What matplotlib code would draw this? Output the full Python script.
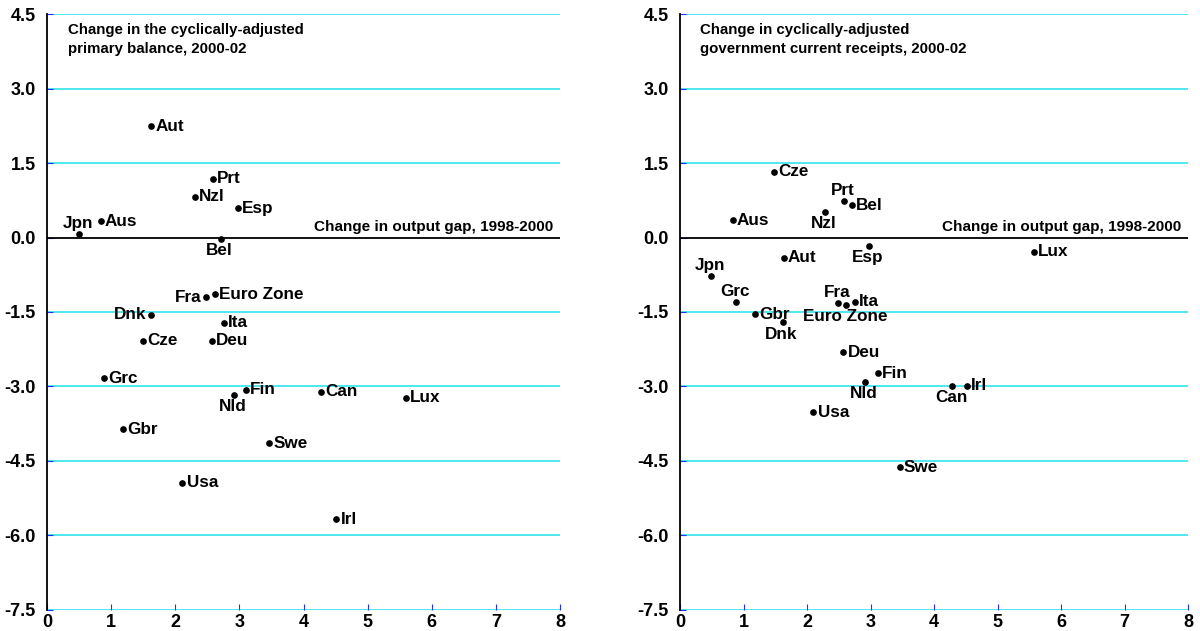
import matplotlib.pyplot as plt
import numpy as np

plt.rcParams['font.family'] = ['Liberation Sans', 'DejaVu Sans']
plt.rcParams['font.weight'] = 'bold'

# left panel: change in cyclically-adjusted primary balance
left_names = ['Aut', 'Prt', 'Nzl', 'Esp', 'Jpn', 'Aus', 'Bel', 'Fra', 'Euro Zone',
              'Dnk', 'Ita', 'Cze', 'Deu', 'Grc', 'Fin', 'Nld', 'Can', 'Lux',
              'Gbr', 'Swe', 'Usa', 'Irl']
left_x = [1.62, 2.59, 2.31, 2.98, 0.50, 0.84, 2.71, 2.48, 2.62,
          1.62, 2.76, 1.50, 2.57, 0.89, 3.10, 2.92, 4.27, 5.60,
          1.19, 3.46, 2.11, 4.51]
left_y = [2.24, 1.18, 0.82, 0.59, 0.07, 0.33, -0.03, -1.20, -1.14,
          -1.56, -1.72, -2.08, -2.08, -2.83, -3.07, -3.17, -3.11, -3.23,
          -3.86, -4.14, -4.94, -5.67]
left_pos = {'Jpn': 'above', 'Bel': 'below', 'Nld': 'below', 'Dnk': 'left', 'Fra': 'left'}

# right panel: change in cyclically-adjusted government current receipts
right_names = ['Cze', 'Prt', 'Bel', 'Nzl', 'Aus', 'Esp', 'Aut', 'Jpn', 'Grc', 'Fra',
               'Euro Zone', 'Ita', 'Gbr', 'Dnk', 'Deu', 'Fin', 'Nld', 'Can', 'Irl',
               'Usa', 'Swe', 'Lux']
right_x = [1.48, 2.59, 2.71, 2.29, 0.83, 2.98, 1.63, 0.49, 0.88, 2.49,
           2.62, 2.75, 1.18, 1.62, 2.57, 3.11, 2.92, 4.29, 4.52,
           2.10, 3.46, 5.57]
right_y = [1.32, 0.74, 0.65, 0.51, 0.35, -0.17, -0.41, -0.78, -1.29, -1.31,
           -1.36, -1.29, -1.55, -1.71, -2.31, -2.73, -2.91, -2.98, -2.98,
           -3.52, -4.63, -0.29]
right_pos = {'Prt': 'above', 'Nzl': 'below', 'Esp': 'below', 'Jpn': 'above',
             'Grc': 'above', 'Fra': 'above', 'Euro Zone': 'below', 'Dnk': 'below',
             'Nld': 'below', 'Can': 'below'}

titles = ['Change in the cyclically-adjusted\nprimary balance, 2000-02',
          'Change in cyclically-adjusted\ngovernment current receipts, 2000-02']
yticks = [4.5, 3.0, 1.5, 0.0, -1.5, -3.0, -4.5, -6.0, -7.5]

grid_col = '#3fe6ef'
tick_col = '#2030ff'

fig = plt.figure(figsize=(12, 6.31), dpi=100)
axes = [fig.add_axes([0.0392, 0.0333, 0.4275, 0.9445]),
        fig.add_axes([0.5667, 0.0333, 0.4233, 0.9445])]

panels = [(left_names, left_x, left_y, left_pos),
          (right_names, right_x, right_y, right_pos)]

for ax, (names, xs, ys, pos), title in zip(axes, panels, titles):
    ax.set_xlim(0, 8)
    ax.set_ylim(-7.5, 4.5)
    for yv in yticks:
        if yv != 0:
            ax.axhline(yv, color=grid_col, lw=1.3, zorder=1)
    ax.axhline(0, color='black', lw=1.3, zorder=2)
    ax.plot(xs, ys, 'o', color='black', ms=3.8, zorder=3)
    for n, x, y in zip(names, xs, ys):
        p = pos.get(n, 'right')
        if p == 'right':
            ax.annotate(n, (x, y), xytext=(3, 0), textcoords='offset points',
                        ha='left', va='center', fontsize=12.3)
        elif p == 'left':
            ax.annotate(n, (x, y), xytext=(-3, 0), textcoords='offset points',
                        ha='right', va='center', fontsize=12.3)
        elif p == 'above':
            ax.annotate(n, (x, y), xytext=(-1, 2), textcoords='offset points',
                        ha='center', va='bottom', fontsize=12.3)
        else:
            ax.annotate(n, (x, y), xytext=(-1, -3), textcoords='offset points',
                        ha='center', va='top', fontsize=12.3)
    ax.text(0.04, 0.985, title, transform=ax.transAxes, ha='left', va='top',
            fontsize=10.8, linespacing=1.45)
    ax.text(7.9, 0.07, 'Change in output gap, 1998-2000', ha='right', va='bottom',
            fontsize=11)
    ax.set_yticks(yticks)
    ax.set_yticklabels(['%.1f' % v for v in yticks])
    ax.set_xticks(range(9))
    ax.tick_params(direction='in', color=tick_col, length=4, labelsize=13)
    ax.tick_params(axis='y', pad=8)
    ax.tick_params(axis='x', pad=3)
    for s in ['top', 'right', 'bottom']:
        ax.spines[s].set_visible(False)
    ax.spines['left'].set_color('black')
    ax.spines['left'].set_linewidth(1.3)

fig.savefig('out.png', dpi=100)
